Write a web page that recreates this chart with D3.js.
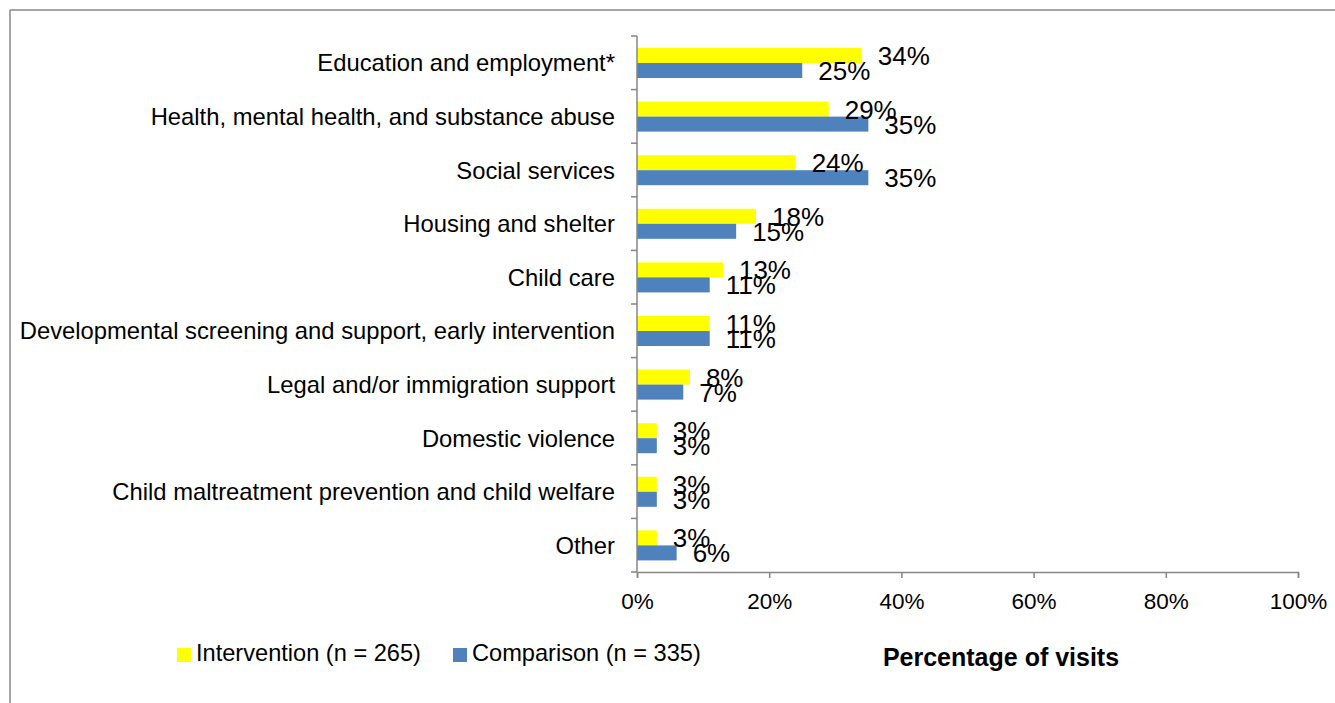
<!DOCTYPE html>
<html>
<head>
<meta charset="utf-8">
<script src="https://cdn.jsdelivr.net/npm/d3@7"></script>
<style>
  html, body { margin: 0; padding: 0; background: #fff; }
  svg { display: block; font-family: "Liberation Sans", Arial, sans-serif; }
</style>
</head>
<body>
<svg id="chart" width="1335" height="703"></svg>
<script>
// Referral categories, top to bottom
const categories = [
  "Education and employment*",
  "Health, mental health, and substance abuse",
  "Social services",
  "Housing and shelter",
  "Child care",
  "Developmental screening and support, early intervention",
  "Legal and/or immigration support",
  "Domestic violence",
  "Child maltreatment prevention and child welfare",
  "Other"
];
// Share of visits (%) by group
const intervention = [34, 29, 24, 18, 13, 11, 8, 3, 3, 3];
const comparison   = [25, 35, 35, 15, 11, 11, 7, 3, 3, 6];
const seriesNames = ["Intervention (n = 265)", "Comparison (n = 335)"];
const seriesColors = ["#FFFF00", "#4F81BD"];
const xTicks = [0, 20, 40, 60, 80, 100];

const svg = d3.select("#chart");
const axisColor = "#868686";

// Frame lines
svg.append("line").attr("x1", 10).attr("x2", 1335).attr("y1", 10).attr("y2", 10)
  .attr("stroke", "#888").attr("stroke-width", 1.5);
svg.append("line").attr("x1", 10).attr("x2", 10).attr("y1", 10).attr("y2", 703)
  .attr("stroke", "#888").attr("stroke-width", 1.5);

const x = d3.scaleLinear().domain([0, 100]).range([637, 1298]);
const y = d3.scaleBand().domain(categories).range([36, 572]);
const sub = d3.scaleBand().domain([0, 1]).range([12, 42]);

const rows = categories.map((c, i) => ({ c, vals: [intervention[i], comparison[i]] }));

const g = svg.append("g");
const groups = g.selectAll("g.row").data(rows).join("g")
  .attr("class", "row")
  .attr("transform", d => `translate(0,${y(d.c)})`);

groups.selectAll("rect").data(d => d.vals.map((v, k) => ({ v, k }))).join("rect")
  .attr("x", x(0))
  .attr("y", d => sub(d.k))
  .attr("width", d => x(d.v) - x(0))
  .attr("height", sub.bandwidth())
  .attr("fill", d => seriesColors[d.k]);

groups.selectAll("text.val").data(d => d.vals.map((v, k) => ({ v, k }))).join("text")
  .attr("class", "val")
  .attr("x", d => x(d.v) + 16)
  .attr("y", d => sub(d.k) + sub.bandwidth() / 2 + 9.5)
  .attr("font-size", 26)
  .attr("fill", "#000")
  .text(d => d.v + "%");

// Category labels
g.selectAll("text.cat").data(categories).join("text")
  .attr("class", "cat")
  .attr("x", 615)
  .attr("y", d => y(d) + y.bandwidth() / 2 + 8.5)
  .attr("text-anchor", "end")
  .attr("font-size", 23.8)
  .attr("fill", "#000")
  .text(d => d);

// Y axis line and tick marks at band boundaries
const yAxis = svg.append("g");
yAxis.append("line").attr("x1", x(0)).attr("x2", x(0)).attr("y1", 36).attr("y2", 572)
  .attr("stroke", axisColor).attr("stroke-width", 1.5);
const bounds = categories.map(c => y(c)).concat([y.range()[1]]);
yAxis.selectAll("line.tk").data(bounds).join("line").attr("class", "tk")
  .attr("x1", x(0) - 6).attr("x2", x(0)).attr("y1", d => d).attr("y2", d => d)
  .attr("stroke", axisColor).attr("stroke-width", 1.5);

// X axis
const xAxis = svg.append("g").attr("transform", "translate(0,572)")
  .call(d3.axisBottom(x).tickValues(xTicks).tickSize(6).tickPadding(15).tickFormat(d => d + "%"));
xAxis.select(".domain").attr("stroke", axisColor).attr("stroke-width", 1.5);
xAxis.selectAll(".tick line").attr("stroke", axisColor).attr("stroke-width", 1.5);
xAxis.selectAll(".tick text").attr("font-size", 22.5).attr("fill", "#000")
  .attr("font-family", "'Liberation Sans', Arial, sans-serif");

// Axis title
svg.append("text").attr("x", 1001).attr("y", 666).attr("text-anchor", "middle")
  .attr("font-size", 25).attr("font-weight", "bold").attr("fill", "#000")
  .text("Percentage of visits");

// Legend
const legendX = [177, 453];
const legend = svg.selectAll("g.leg").data(seriesNames).join("g").attr("class", "leg")
  .attr("transform", (d, i) => `translate(${legendX[i]},648)`);
legend.append("rect").attr("width", 14).attr("height", 14)
  .attr("fill", (d, i) => seriesColors[i]);
legend.append("text").attr("x", 19).attr("y", 13).attr("font-size", 23.6)
  .attr("fill", "#000").text(d => d);
</script>
</body>
</html>
